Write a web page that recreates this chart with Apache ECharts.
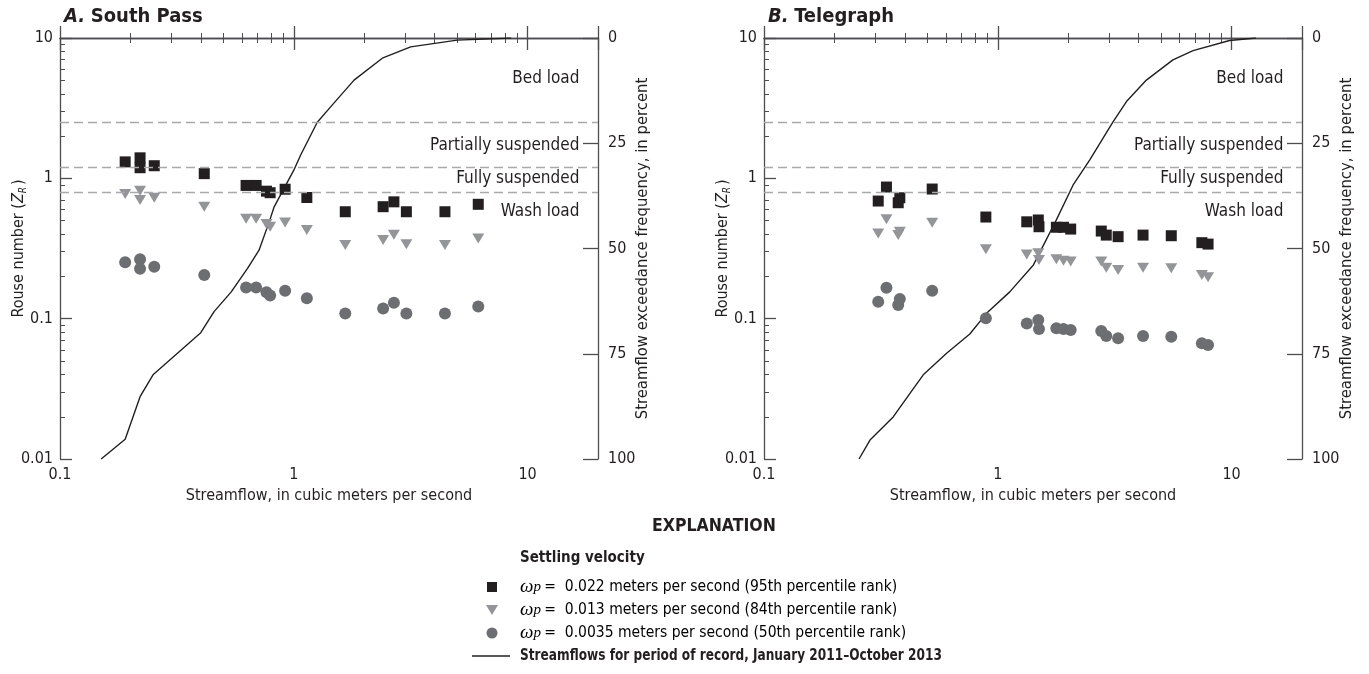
<!DOCTYPE html>
<html>
<head>
<meta charset="utf-8">
<title>Rouse number and streamflow</title>
<script src="https://cdn.jsdelivr.net/npm/echarts@6/dist/echarts.min.js"></script>
<style>
  html, body { margin: 0; padding: 0; background: #fff; }
  #chart { width: 1369px; height: 674px; }
</style>
</head>
<body>
<div id="chart"></div>
<script>
// ---- data ----
// A. South Pass: streamflow of each sample, m3/s
const flowA = [0.19, 0.22, 0.22, 0.253, 0.414, 0.625, 0.69, 0.764, 0.792, 0.918, 1.137, 1.66, 2.41, 2.68, 3.03, 4.43, 6.15];
const rouseA95 = [1.31, 1.40, 1.19, 1.23, 1.08, 0.89, 0.89, 0.81, 0.79, 0.836, 0.73, 0.578, 0.628, 0.68, 0.578, 0.578, 0.653];
const rouseA84 = [0.773, 0.817, 0.70, 0.728, 0.628, 0.515, 0.515, 0.472, 0.452, 0.485, 0.428, 0.335, 0.363, 0.396, 0.339, 0.335, 0.373];
const rouseA50 = [0.252, 0.265, 0.227, 0.234, 0.205, 0.167, 0.167, 0.154, 0.146, 0.158, 0.140, 0.109, 0.118, 0.130, 0.109, 0.109, 0.122];
// flow duration curve: streamflow vs exceedance frequency (percent)
const curveFlowA = [0.15, 0.19, 0.22, 0.25, 0.40, 0.456, 0.54, 0.634, 0.71, 0.79, 0.824, 1.0, 1.07, 1.26, 1.44, 1.81, 2.39, 3.16, 5.0, 8.5];
const curvePctA  = [100, 95.3, 85.2, 80, 70, 65, 60.3, 54.7, 50.4, 43.2, 40.1, 31.4, 27.8, 20, 16.3, 10, 4.8, 2.1, 0.5, 0];

// B. Telegraph
const flowB = [0.308, 0.334, 0.375, 0.381, 0.524, 0.889, 1.33, 1.49, 1.50, 1.78, 1.91, 2.05, 2.77, 2.91, 3.27, 4.18, 5.52, 7.46, 7.93];
const rouseB95 = [0.689, 0.867, 0.67, 0.727, 0.839, 0.53, 0.49, 0.505, 0.452, 0.448, 0.448, 0.435, 0.421, 0.394, 0.384, 0.394, 0.39, 0.348, 0.34];
const rouseB84 = [0.405, 0.51, 0.394, 0.416, 0.483, 0.312, 0.287, 0.292, 0.262, 0.265, 0.259, 0.255, 0.255, 0.231, 0.222, 0.231, 0.229, 0.205, 0.197];
const rouseB50 = [0.132, 0.166, 0.125, 0.138, 0.158, 0.1005, 0.0925, 0.0977, 0.0843, 0.0853, 0.0843, 0.083, 0.0817, 0.0752, 0.0724, 0.0752, 0.0743, 0.0667, 0.0649];
const curveFlowB = [0.255, 0.284, 0.357, 0.421, 0.48, 0.604, 0.759, 0.895, 1.125, 1.42, 1.78, 2.10, 2.47, 3.11, 3.55, 4.32, 5.61, 6.84, 9.8, 12.7];
const curvePctB  = [100, 95.5, 90, 84.4, 80, 74.9, 70.3, 65.4, 60.3, 53.9, 43.2, 34.9, 29, 19.9, 15.1, 10, 5.2, 3.0, 0.6, 0];

// Rouse number thresholds between transport modes, and the zone names
const thresholds = [2.5, 1.2, 0.8];
const zoneNames = ['Bed load', 'Partially suspended', 'Fully suspended', 'Wash load'];
const zoneLabelY = [5.1, 1.71, 0.99, 0.575];

const xTicks = [0.1, 1, 10];
const pctTicks = [0, 25, 50, 75, 100];

// ---- styling ----
const FONT = "'Liberation Sans Narrow', 'DejaVu Sans Condensed', 'Liberation Sans', sans-serif";
const SERIF = "'Liberation Serif', 'DejaVu Serif', serif";
const INK = '#231f20';
const AXIS = '#4d4d4f';
const C95 = '#231f20', C84 = '#939598', C50 = '#6d6e71';

const chart = echarts.init(document.getElementById('chart'));

const option = {
  backgroundColor: '#fff',
  textStyle: { fontFamily: FONT, color: INK },
  animation: false,
  title: [],
  grid: [],
  xAxis: [],
  yAxis: [],
  series: [],
  graphic: []
};

function pairs(xs, ys) {
  return xs.map((x, i) => [x, ys[i]]);
}

function addPanel(i, left, letter, name, flow, r95, r84, r50, cFlow, cPct) {
  option.title.push({
    text: '{a|' + letter + '.} {b|' + name + '}',
    left: left - 1,
    top: 2,
    textStyle: {
      rich: {
        a: { fontFamily: FONT, fontSize: 20, fontWeight: 'bold', fontStyle: 'italic', color: INK },
        b: { fontFamily: FONT, fontSize: 20, fontWeight: 'bold', color: INK }
      }
    }
  });
  option.grid.push({ left: left, top: 38, width: 538, height: 421 });

  const axisLine = { show: true, lineStyle: { color: AXIS, width: 1.3 } };
  const labelStyle = { fontFamily: FONT, fontSize: 16, color: INK };

  // bottom streamflow axis
  option.xAxis.push({
    type: 'log', logBase: 10, min: 0.1, max: 20, gridIndex: i, position: 'bottom',
    axisLine: axisLine,
    axisTick: { inside: true, length: 12, lineStyle: { color: AXIS, width: 1.3 } },
    minorTick: { show: true, splitNumber: 9, length: 5, lineStyle: { color: AXIS, width: 1 } },
    splitLine: { show: false },
    axisLabel: Object.assign({ margin: 8, showMaxLabel: false,
      formatter: v => (xTicks.indexOf(+v) >= 0 ? String(v) : '') }, labelStyle),
    name: 'Streamflow, in cubic meters per second',
    nameLocation: 'middle', nameGap: 29,
    nameTextStyle: { fontFamily: FONT, fontSize: 16, color: INK }
  });
  // mirrored top axis (ticks only)
  option.xAxis.push({
    type: 'log', logBase: 10, min: 0.1, max: 20, gridIndex: i, position: 'top',
    axisLine: axisLine,
    axisTick: { inside: true, length: 12, lineStyle: { color: AXIS, width: 1.3 } },
    minorTick: { show: true, splitNumber: 9, length: 5, lineStyle: { color: AXIS, width: 1 } },
    splitLine: { show: false },
    axisLabel: { show: false }
  });
  // left Rouse number axis
  option.yAxis.push({
    type: 'log', logBase: 10, min: 0.01, max: 10, gridIndex: i, position: 'left',
    axisLine: axisLine,
    axisTick: { inside: true, length: 12, lineStyle: { color: AXIS, width: 1.3 } },
    minorTick: { show: true, splitNumber: 9, length: 5, lineStyle: { color: AXIS, width: 1 } },
    splitLine: { show: false },
    axisLabel: Object.assign({ margin: 7 }, labelStyle),
    name: 'Rouse number ({z|Z}{r|R})',
    nameLocation: 'middle', nameGap: 32, nameMoveOverlap: false,
    nameTextStyle: {
      fontFamily: FONT, fontSize: 16, color: INK,
      rich: {
        z: { fontFamily: FONT, fontSize: 16, fontStyle: 'italic', color: INK },
        r: { fontFamily: FONT, fontSize: 10, fontStyle: 'italic', color: INK, padding: [8, 2, 0, 0] }
      }
    }
  });
  // right exceedance frequency axis
  option.yAxis.push({
    type: 'value', min: 0, max: 100, interval: 25, inverse: true, gridIndex: i, position: 'right',
    axisLine: axisLine,
    axisTick: { inside: true, length: 15, lineStyle: { color: AXIS, width: 1.3 } },
    splitLine: { show: false },
    axisLabel: Object.assign({ margin: 10,
      formatter: v => (pctTicks.indexOf(+v) >= 0 ? String(v) : '') }, labelStyle),
    name: 'Streamflow exceedance frequency, in percent',
    nameLocation: 'middle', nameGap: 36, nameMoveOverlap: false,
    nameTextStyle: { fontFamily: FONT, fontSize: 16.5, color: INK }
  });

  const xb = 2 * i, yl = 2 * i, yr = 2 * i + 1;

  option.series.push({
    name: 'Streamflows for period of record',
    type: 'line', xAxisIndex: xb, yAxisIndex: yr,
    data: pairs(cFlow, cPct),
    symbol: 'none', showSymbol: false,
    lineStyle: { color: INK, width: 1.4 },
    z: 3
  });
  option.series.push({
    name: 'zones', type: 'scatter', xAxisIndex: xb, yAxisIndex: yl,
    data: zoneLabelY.map((y, k) => [17.5, y, zoneNames[k]]),
    symbolSize: 0.1, itemStyle: { color: '#fff', opacity: 1 }, silent: true,
    label: { show: true, position: 'left', distance: 5, formatter: p => p.value[2],
      fontFamily: FONT, fontSize: 17, color: INK, opacity: 1 },
    markLine: {
      silent: true, symbol: ['none', 'none'],
      label: { show: false },
      lineStyle: { color: '#a7a9ac', width: 1.4, type: [9, 5], opacity: 1 },
      data: thresholds.map(t => ({ yAxis: t }))
    },
    z: 1
  });
  option.series.push({
    name: '50th', type: 'scatter', xAxisIndex: xb, yAxisIndex: yl,
    data: pairs(flow, r50), symbol: 'circle', symbolSize: 12,
    itemStyle: { color: C50, opacity: 1 }, z: 4
  });
  option.series.push({
    name: '84th', type: 'scatter', xAxisIndex: xb, yAxisIndex: yl,
    data: pairs(flow, r84), symbol: 'triangle', symbolRotate: 180, symbolSize: [12, 10],
    itemStyle: { color: C84, opacity: 1 }, z: 4
  });
  option.series.push({
    name: '95th', type: 'scatter', xAxisIndex: xb, yAxisIndex: yl,
    data: pairs(flow, r95), symbol: 'rect', symbolSize: 11,
    itemStyle: { color: C95, opacity: 1 }, z: 4
  });
}

addPanel(0, 60, 'A', 'South Pass', flowA, rouseA95, rouseA84, rouseA50, curveFlowA, curvePctA);
addPanel(1, 764, 'B', 'Telegraph', flowB, rouseB95, rouseB84, rouseB50, curveFlowB, curvePctB);

// ---- explanation (legend) ----
const legendRows = [
  '0.022 meters per second (95th percentile rank)',
  '0.013 meters per second (84th percentile rank)',
  '0.0035 meters per second (50th percentile rank)'
];
const rowY = [587, 610, 633];
const omegaRich = {
  w: { fontFamily: SERIF, fontSize: 19, fontStyle: 'italic', color: INK },
  p: { fontFamily: SERIF, fontSize: 15, fontStyle: 'italic', color: INK },
  t: { fontFamily: FONT, fontSize: 15.5, color: INK }
};
option.graphic = [
  { type: 'text', x: 652, y: 526, style: { text: 'EXPLANATION', font: 'bold 17.5px ' + FONT, fill: INK, verticalAlign: 'middle' } },
  { type: 'text', x: 520, y: 558, style: { text: 'Settling velocity', font: 'bold 15px ' + FONT, fill: INK, verticalAlign: 'middle' } },
  { type: 'rect', shape: { x: 487, y: rowY[0] - 5, width: 10, height: 10 }, style: { fill: C95 } },
  { type: 'polygon', shape: { points: [[486, rowY[1] - 5], [498, rowY[1] - 5], [492, rowY[1] + 5]] }, style: { fill: C84 } },
  { type: 'circle', shape: { cx: 492, cy: rowY[2], r: 5.5 }, style: { fill: C50 } },
  { type: 'line', shape: { x1: 472, y1: 656, x2: 510, y2: 656 }, style: { stroke: INK, lineWidth: 1.5 } },
  { type: 'text', x: 520, y: 656, scaleX: 0.9, originX: 0, originY: 0,
    style: { text: 'Streamflows for period of record, January 2011\u2013October 2013', font: 'bold 15px ' + FONT, fill: INK, verticalAlign: 'middle' } }
];
legendRows.forEach((row, k) => {
  option.graphic.push({
    type: 'text', x: 520, y: rowY[k],
    style: { text: '{w|\u03c9}{p|p} {t|=  ' + row + '}', rich: omegaRich, verticalAlign: 'middle' }
  });
});

chart.setOption(option);
window.addEventListener('resize', function () { chart.resize(); });
</script>
</body>
</html>
